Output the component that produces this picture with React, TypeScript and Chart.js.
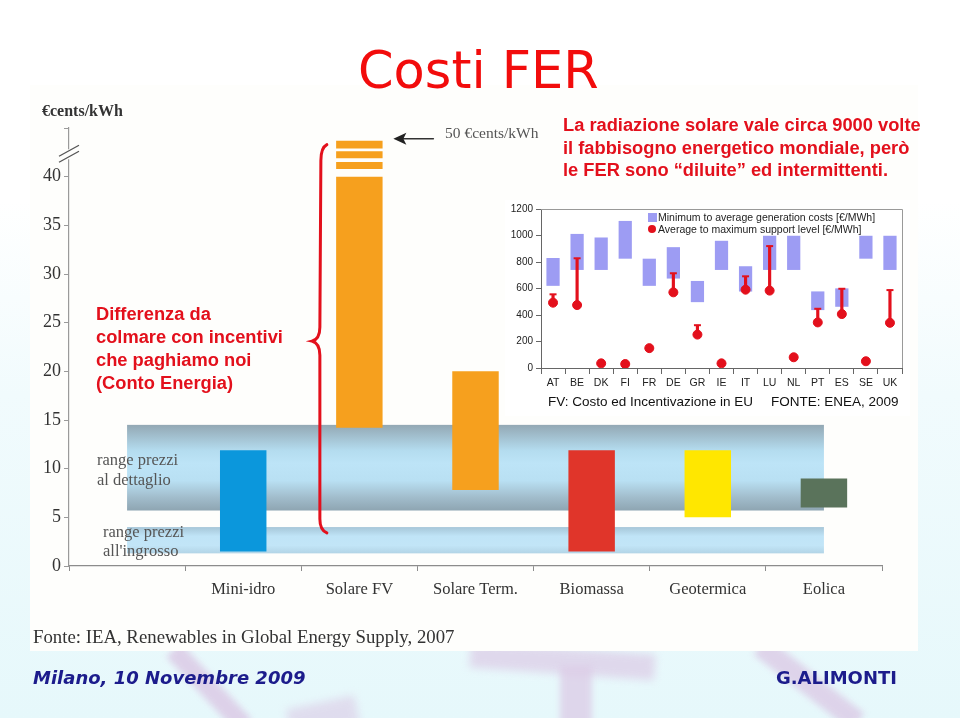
import React, { useEffect, useRef } from 'react';
import { Chart, registerables } from 'chart.js';

Chart.register(...registerables);

// ---------- Main chart data (€cents/kWh) ----------
const categories = ['', 'Mini-idro', 'Solare FV', 'Solare Term.', 'Biomassa', 'Geotermica', 'Eolica'];
const costLow: (number | null)[] = [null, 1.5, 14.2, 7.8, 1.5, 5.0, 6.0];
const costHigh: (number | null)[] = [null, 11.9, 40, 20, 11.9, 11.9, 9.0];
const barColors = ['#000000', '#0b97dc', '#f6a01e', '#f6a01e', '#e0352a', '#ffe700', '#5a735b'];
const fvStripeLow = [40.8, 41.9, 42.9];
const fvStripeHigh = [41.5, 42.6, 43.7];
const retailRange = [5.7, 14.5];
const wholesaleRange = [1.3, 4.0];
const yMin = 0;
const yMax = 45;
const yStep = 5;
const yLastLabelled = 40;

// ---------- Inset chart data (€/MWh) ----------
const countries = ['AT', 'BE', 'DK', 'FI', 'FR', 'DE', 'GR', 'IE', 'IT', 'LU', 'NL', 'PT', 'ES', 'SE', 'UK'];
const genCostMin = [620, 740, 740, 825, 620, 675, 497, 740, 577, 740, 740, 437, 462, 825, 740];
const genCostAvg = [830, 1012, 985, 1110, 825, 912, 657, 960, 768, 998, 998, 578, 601, 998, 998];
const supportAvg = [493, 475, 35, 30, 150, 571, 252, 35, 591, 584, 81, 344, 407, 51, 341];
const supportMax: (number | null)[] = [556, 828, null, null, null, 715, 323, null, 692, 920, null, 447, 598, null, 588];
const insetYMax = 1200;
const insetYStep = 200;

const RED = '#e3101c';

const bandsPlugin = {
  id: 'bands',
  beforeDatasetsDraw(chart: any) {
    const { ctx, scales } = chart;
    const x = scales.x, y = scales.y;
    const x0 = x.getPixelForValue(0);
    const x1 = x.getPixelForValue(6);
    ctx.save();
    // retail price band
    let t = y.getPixelForValue(retailRange[1]);
    let b = y.getPixelForValue(retailRange[0]);
    let g = ctx.createLinearGradient(0, t, 0, b);
    g.addColorStop(0, '#93a8b4');
    g.addColorStop(0.3, '#b4dcef');
    g.addColorStop(0.45, '#bde4f7');
    g.addColorStop(0.65, '#b9e0f3');
    g.addColorStop(0.85, '#a1bccb');
    g.addColorStop(1, '#8ea5b2');
    ctx.fillStyle = g;
    ctx.fillRect(x0, t, x1 - x0, b - t);
    // wholesale price band
    t = y.getPixelForValue(wholesaleRange[1]);
    b = y.getPixelForValue(wholesaleRange[0]);
    g = ctx.createLinearGradient(0, t, 0, b);
    g.addColorStop(0, '#a6c6d8');
    g.addColorStop(0.35, '#c0e4f7');
    g.addColorStop(0.7, '#c2e5f7');
    g.addColorStop(1, '#b2d4e6');
    ctx.fillStyle = g;
    ctx.fillRect(x0, t, x1 - x0, b - t);
    ctx.restore();
  },
  afterDatasetsDraw(chart: any) {
    const { ctx, scales } = chart;
    const x = scales.x, y = scales.y;
    ctx.save();
    // axis break marks
    const ax = x.left;
    const yc = y.getPixelForValue(42.3);
    ctx.fillStyle = '#fefefc';
    ctx.fillRect(ax - 2, yc - 5, 4, 10);
    ctx.strokeStyle = '#555';
    ctx.lineWidth = 1.3;
    ctx.beginPath();
    ctx.moveTo(ax - 10, yc + 8); ctx.lineTo(ax + 10, yc - 3);
    ctx.moveTo(ax - 10, yc + 2); ctx.lineTo(ax + 10, yc - 9);
    ctx.stroke();

    // red brace
    const bx = x.getPixelForValue(1.66);
    const top = y.getPixelForValue(43.3);
    const mid = y.getPixelForValue(23.1);
    const bot = y.getPixelForValue(3.4);
    ctx.strokeStyle = RED;
    ctx.lineWidth = 3;
    ctx.lineCap = 'round';
    ctx.beginPath();
    ctx.moveTo(bx + 7, top);
    ctx.quadraticCurveTo(bx + 1, top + 3, bx + 1, top + 16);
    ctx.lineTo(bx, mid - 14);
    ctx.quadraticCurveTo(bx, mid - 2, bx - 8, mid);
    ctx.quadraticCurveTo(bx, mid + 2, bx, mid + 14);
    ctx.lineTo(bx, bot - 14);
    ctx.quadraticCurveTo(bx, bot - 3, bx + 7, bot);
    ctx.stroke();

    // arrow pointing at the FV bar top (50 €cents/kWh)
    const barRight = x.getPixelForValue(2) + 24;
    const ay = y.getPixelForValue(43.9);
    ctx.strokeStyle = '#333';
    ctx.fillStyle = '#222';
    ctx.lineWidth = 1.5;
    ctx.beginPath();
    ctx.moveTo(barRight + 50, ay); ctx.lineTo(barRight + 20, ay);
    ctx.stroke();
    ctx.beginPath();
    ctx.moveTo(barRight + 10, ay);
    ctx.lineTo(barRight + 23, ay - 6);
    ctx.lineTo(barRight + 20, ay);
    ctx.lineTo(barRight + 23, ay + 6);
    ctx.closePath();
    ctx.fill();
    ctx.restore();
  },
};

const boxPlugin = {
  id: 'box',
  afterDraw(chart: any) {
    const { ctx, chartArea: a } = chart;
    ctx.save();
    ctx.strokeStyle = '#9a9a9a';
    ctx.lineWidth = 1;
    ctx.beginPath();
    ctx.moveTo(a.left, a.top + 0.5);
    ctx.lineTo(a.right + 0.5, a.top + 0.5);
    ctx.lineTo(a.right + 0.5, a.bottom);
    ctx.stroke();
    ctx.restore();
  },
};

function MainChart() {
  const ref = useRef<HTMLCanvasElement>(null);
  useEffect(() => {
    if (!ref.current) return;
    const barData = categories.map((_, i) =>
      costLow[i] == null ? null : [costLow[i] as number, costHigh[i] as number]
    );
    const stripeSets = fvStripeLow.map((lo, k) => ({
      data: categories.map((c) => (c === 'Solare FV' ? [lo, fvStripeHigh[k]] : null)),
      backgroundColor: '#f6a01e',
      barPercentage: 0.4,
      categoryPercentage: 1,
      grouped: false,
      borderWidth: 0,
    }));
    const chart = new Chart(ref.current, {
      type: 'bar',
      data: {
        labels: categories,
        datasets: [
          {
            data: barData as any,
            backgroundColor: barColors,
            barPercentage: 0.4,
            categoryPercentage: 1,
            grouped: false,
            borderWidth: 0,
          },
          ...(stripeSets as any),
        ],
      },
      options: {
        animation: false,
        responsive: false,
        maintainAspectRatio: false,
        layout: { padding: { left: 20, top: 128, right: 78, bottom: 112 } },
        plugins: { legend: { display: false }, tooltip: { enabled: false } },
        scales: {
          x: {
            grid: { display: true, drawOnChartArea: false, offset: true, tickLength: 5, color: '#8c8c8c' },
            border: { display: true, color: '#8c8c8c', width: 1.2 },
            ticks: { font: { family: 'Liberation Serif', size: 16.5 }, color: '#333', padding: 9, maxRotation: 0 },
            afterFit: (s: any) => { s.height = 40; },
          },
          y: {
            min: yMin,
            max: yMax,
            grid: { display: true, drawOnChartArea: false, tickLength: 5, color: '#9a9a9a' },
            border: { display: true, color: '#9a9a9a', width: 1.2 },
            ticks: {
              stepSize: yStep,
              font: { family: 'Liberation Serif', size: 18 },
              color: '#333',
              padding: 3,
              callback: (v: any) => (Number(v) <= yLastLabelled ? String(v) : ''),
            },
            afterFit: (s: any) => { s.width = 49; },
          },
        },
      },
      plugins: [bandsPlugin],
    });
    return () => chart.destroy();
  }, []);
  return (
    <canvas
      ref={ref}
      width={960}
      height={718}
      style={{ position: 'absolute', left: 0, top: 0, width: 960, height: 718 }}
    />
  );
}

function InsetChart() {
  const ref = useRef<HTMLCanvasElement>(null);
  useEffect(() => {
    if (!ref.current) return;
    const chart = new Chart(ref.current, {
      type: 'bar',
      data: {
        labels: countries,
        datasets: [
          {
            type: 'bar',
            data: genCostMin.map((lo, i) => [lo, genCostAvg[i]]) as any,
            backgroundColor: '#9d9cf3',
            barPercentage: 0.55,
            categoryPercentage: 1,
            grouped: false,
            borderWidth: 0,
            order: 4,
          },
          {
            type: 'bar',
            data: supportAvg.map((a, i) => (supportMax[i] == null ? null : [a, supportMax[i] as number])) as any,
            backgroundColor: RED,
            barThickness: 2.5,
            grouped: false,
            borderWidth: 0,
            order: 3,
          },
          {
            type: 'line',
            data: supportMax as any,
            showLine: false,
            pointStyle: 'line',
            pointRadius: 3.5,
            borderColor: RED,
            pointBorderWidth: 2,
            borderWidth: 2,
            order: 2,
          },
          {
            type: 'line',
            data: supportAvg,
            showLine: false,
            pointStyle: 'circle',
            pointRadius: 4.5,
            backgroundColor: RED,
            borderColor: RED,
            pointBackgroundColor: RED,
            pointBorderColor: RED,
            order: 1,
          },
        ] as any,
      },
      options: {
        animation: false,
        responsive: false,
        maintainAspectRatio: false,
        layout: { padding: { left: 0, top: 9, right: 8, bottom: 6 } },
        plugins: { legend: { display: false }, tooltip: { enabled: false } },
        scales: {
          x: {
            offset: true,
            grid: { display: true, drawOnChartArea: false, offset: true, tickLength: 6, color: '#666' },
            border: { display: true, color: '#666' },
            ticks: { font: { family: 'Liberation Sans', size: 10.5 }, color: '#222', padding: 3, maxRotation: 0, autoSkip: false },
            afterFit: (s: any) => { s.height = 22; },
          },
          y: {
            min: 0,
            max: insetYMax,
            grid: { display: true, drawOnChartArea: false, tickLength: 5, color: '#666' },
            border: { display: true, color: '#666' },
            ticks: {
              stepSize: insetYStep,
              font: { family: 'Liberation Sans', size: 10 },
              color: '#222',
              padding: 3,
              callback: (v: any) => String(v),
            },
            afterFit: (s: any) => { s.width = 41; },
          },
        },
      },
      plugins: [boxPlugin],
    });
    return () => chart.destroy();
  }, []);
  return (
    <canvas
      ref={ref}
      width={410}
      height={196}
      style={{ position: 'absolute', left: 500, top: 200, width: 410, height: 196 }}
    />
  );
}

const abs = (left: number, top: number, extra: React.CSSProperties = {}): React.CSSProperties => ({
  position: 'absolute',
  left,
  top,
  whiteSpace: 'nowrap',
  margin: 0,
  ...extra,
});

const LILAC = '#dccbe6';

export default function App() {
  return (
    <div
      style={{
        position: 'fixed',
        left: 0,
        top: 0,
        width: 960,
        height: 718,
        overflow: 'hidden',
        background: 'linear-gradient(180deg, #ffffff 0%, #ffffff 28%, #f1fbfd 55%, #e6f8fb 100%)',
      }}
    >
      {/* decorative lilac shapes in the footer */}
      <div style={abs(199, 636, { width: 20, height: 104, background: LILAC, transform: 'rotate(-43deg)', filter: 'blur(3px)', opacity: 0.85 })} />
      <div style={abs(288, 702, { width: 70, height: 30, background: LILAC, transform: 'rotate(-12deg)', filter: 'blur(4px)', opacity: 0.6 })} />
      <div style={abs(470, 648, { width: 185, height: 26, background: LILAC, transform: 'rotate(4deg)', filter: 'blur(4px)', opacity: 0.7 })} />
      <div style={abs(560, 666, { width: 32, height: 60, background: LILAC, filter: 'blur(3px)', opacity: 0.75 })} />
      <div style={abs(798, 622, { width: 22, height: 124, background: LILAC, transform: 'rotate(-52deg)', filter: 'blur(3px)', opacity: 0.8 })} />
      {/* white slide panel */}
      <div style={abs(30, 85, { width: 888, height: 566, background: '#fefefc' })} />

      <MainChart />
      <div style={abs(505, 200, { width: 405, height: 216, background: '#ffffff' })} />
      <InsetChart />

      {/* title */}
      <div style={abs(358, 38, { fontFamily: 'DejaVu Sans', fontSize: 51, lineHeight: '66px', color: '#f20c0c' })}>Costi FER</div>

      {/* axis unit */}
      <div style={abs(42, 102, { fontFamily: 'Liberation Serif', fontWeight: 'bold', fontSize: 16, lineHeight: '18px', color: '#333' })}>€cents/kWh</div>
      <div style={abs(445, 124, { fontFamily: 'Liberation Serif', fontSize: 15.5, lineHeight: '18px', color: '#555' })}>50 €cents/kWh</div>

      {/* red annotations */}
      <div style={abs(563, 114, { fontFamily: 'Liberation Sans', fontWeight: 'bold', fontSize: 18.3, lineHeight: '22.5px', color: RED })}>
        La radiazione solare vale circa 9000 volte<br />
        il fabbisogno energetico mondiale, però<br />
        le FER sono “diluite” ed intermittenti.
      </div>
      <div style={abs(96, 302, { fontFamily: 'Liberation Sans', fontWeight: 'bold', fontSize: 18.3, lineHeight: '23px', color: RED })}>
        Differenza da<br />
        colmare con incentivi<br />
        che paghiamo noi<br />
        (Conto Energia)
      </div>

      {/* band labels */}
      <div style={abs(97, 450, { fontFamily: 'Liberation Serif', fontSize: 16.5, lineHeight: '20px', color: '#555' })}>
        range prezzi<br />al dettaglio
      </div>
      <div style={abs(103, 522, { fontFamily: 'Liberation Serif', fontSize: 16.5, lineHeight: '19px', color: '#555' })}>
        range prezzi<br />all'ingrosso
      </div>

      {/* inset legend */}
      <div style={abs(648, 213, { width: 9, height: 9, background: '#9d9cf3' })} />
      <div style={abs(658, 211, { fontFamily: 'Liberation Sans', fontSize: 10.5, lineHeight: '12px', color: '#222' })}>
        Minimum to average generation costs [€/MWh]
      </div>
      <div style={abs(648, 225, { width: 8, height: 8, borderRadius: 4, background: RED })} />
      <div style={abs(658, 223, { fontFamily: 'Liberation Sans', fontSize: 10.5, lineHeight: '12px', color: '#222' })}>
        Average to maximum support level [€/MWh]
      </div>

      {/* inset caption */}
      <div style={abs(548, 394, { fontFamily: 'Liberation Sans', fontSize: 13.5, lineHeight: '16px', color: '#111' })}>
        FV: Costo ed Incentivazione in EU
      </div>
      <div style={abs(771, 394, { fontFamily: 'Liberation Sans', fontSize: 13.5, lineHeight: '16px', color: '#111' })}>
        FONTE: ENEA, 2009
      </div>

      {/* source */}
      <div style={abs(33, 626, { fontFamily: 'Liberation Serif', fontSize: 18.8, lineHeight: '22px', color: '#333' })}>
        Fonte: IEA, Renewables in Global Energy Supply, 2007
      </div>

      {/* footer */}
      <div style={abs(33, 666, { fontFamily: 'DejaVu Sans', fontStyle: 'italic', fontWeight: 'bold', fontSize: 18, lineHeight: '24px', color: '#1c1c8c' })}>
        Milano, 10 Novembre 2009
      </div>
      <div style={abs(776, 666, { fontFamily: 'DejaVu Sans', fontWeight: 'bold', fontSize: 18, lineHeight: '24px', color: '#1c1c8c' })}>
        G.ALIMONTI
      </div>
    </div>
  );
}
